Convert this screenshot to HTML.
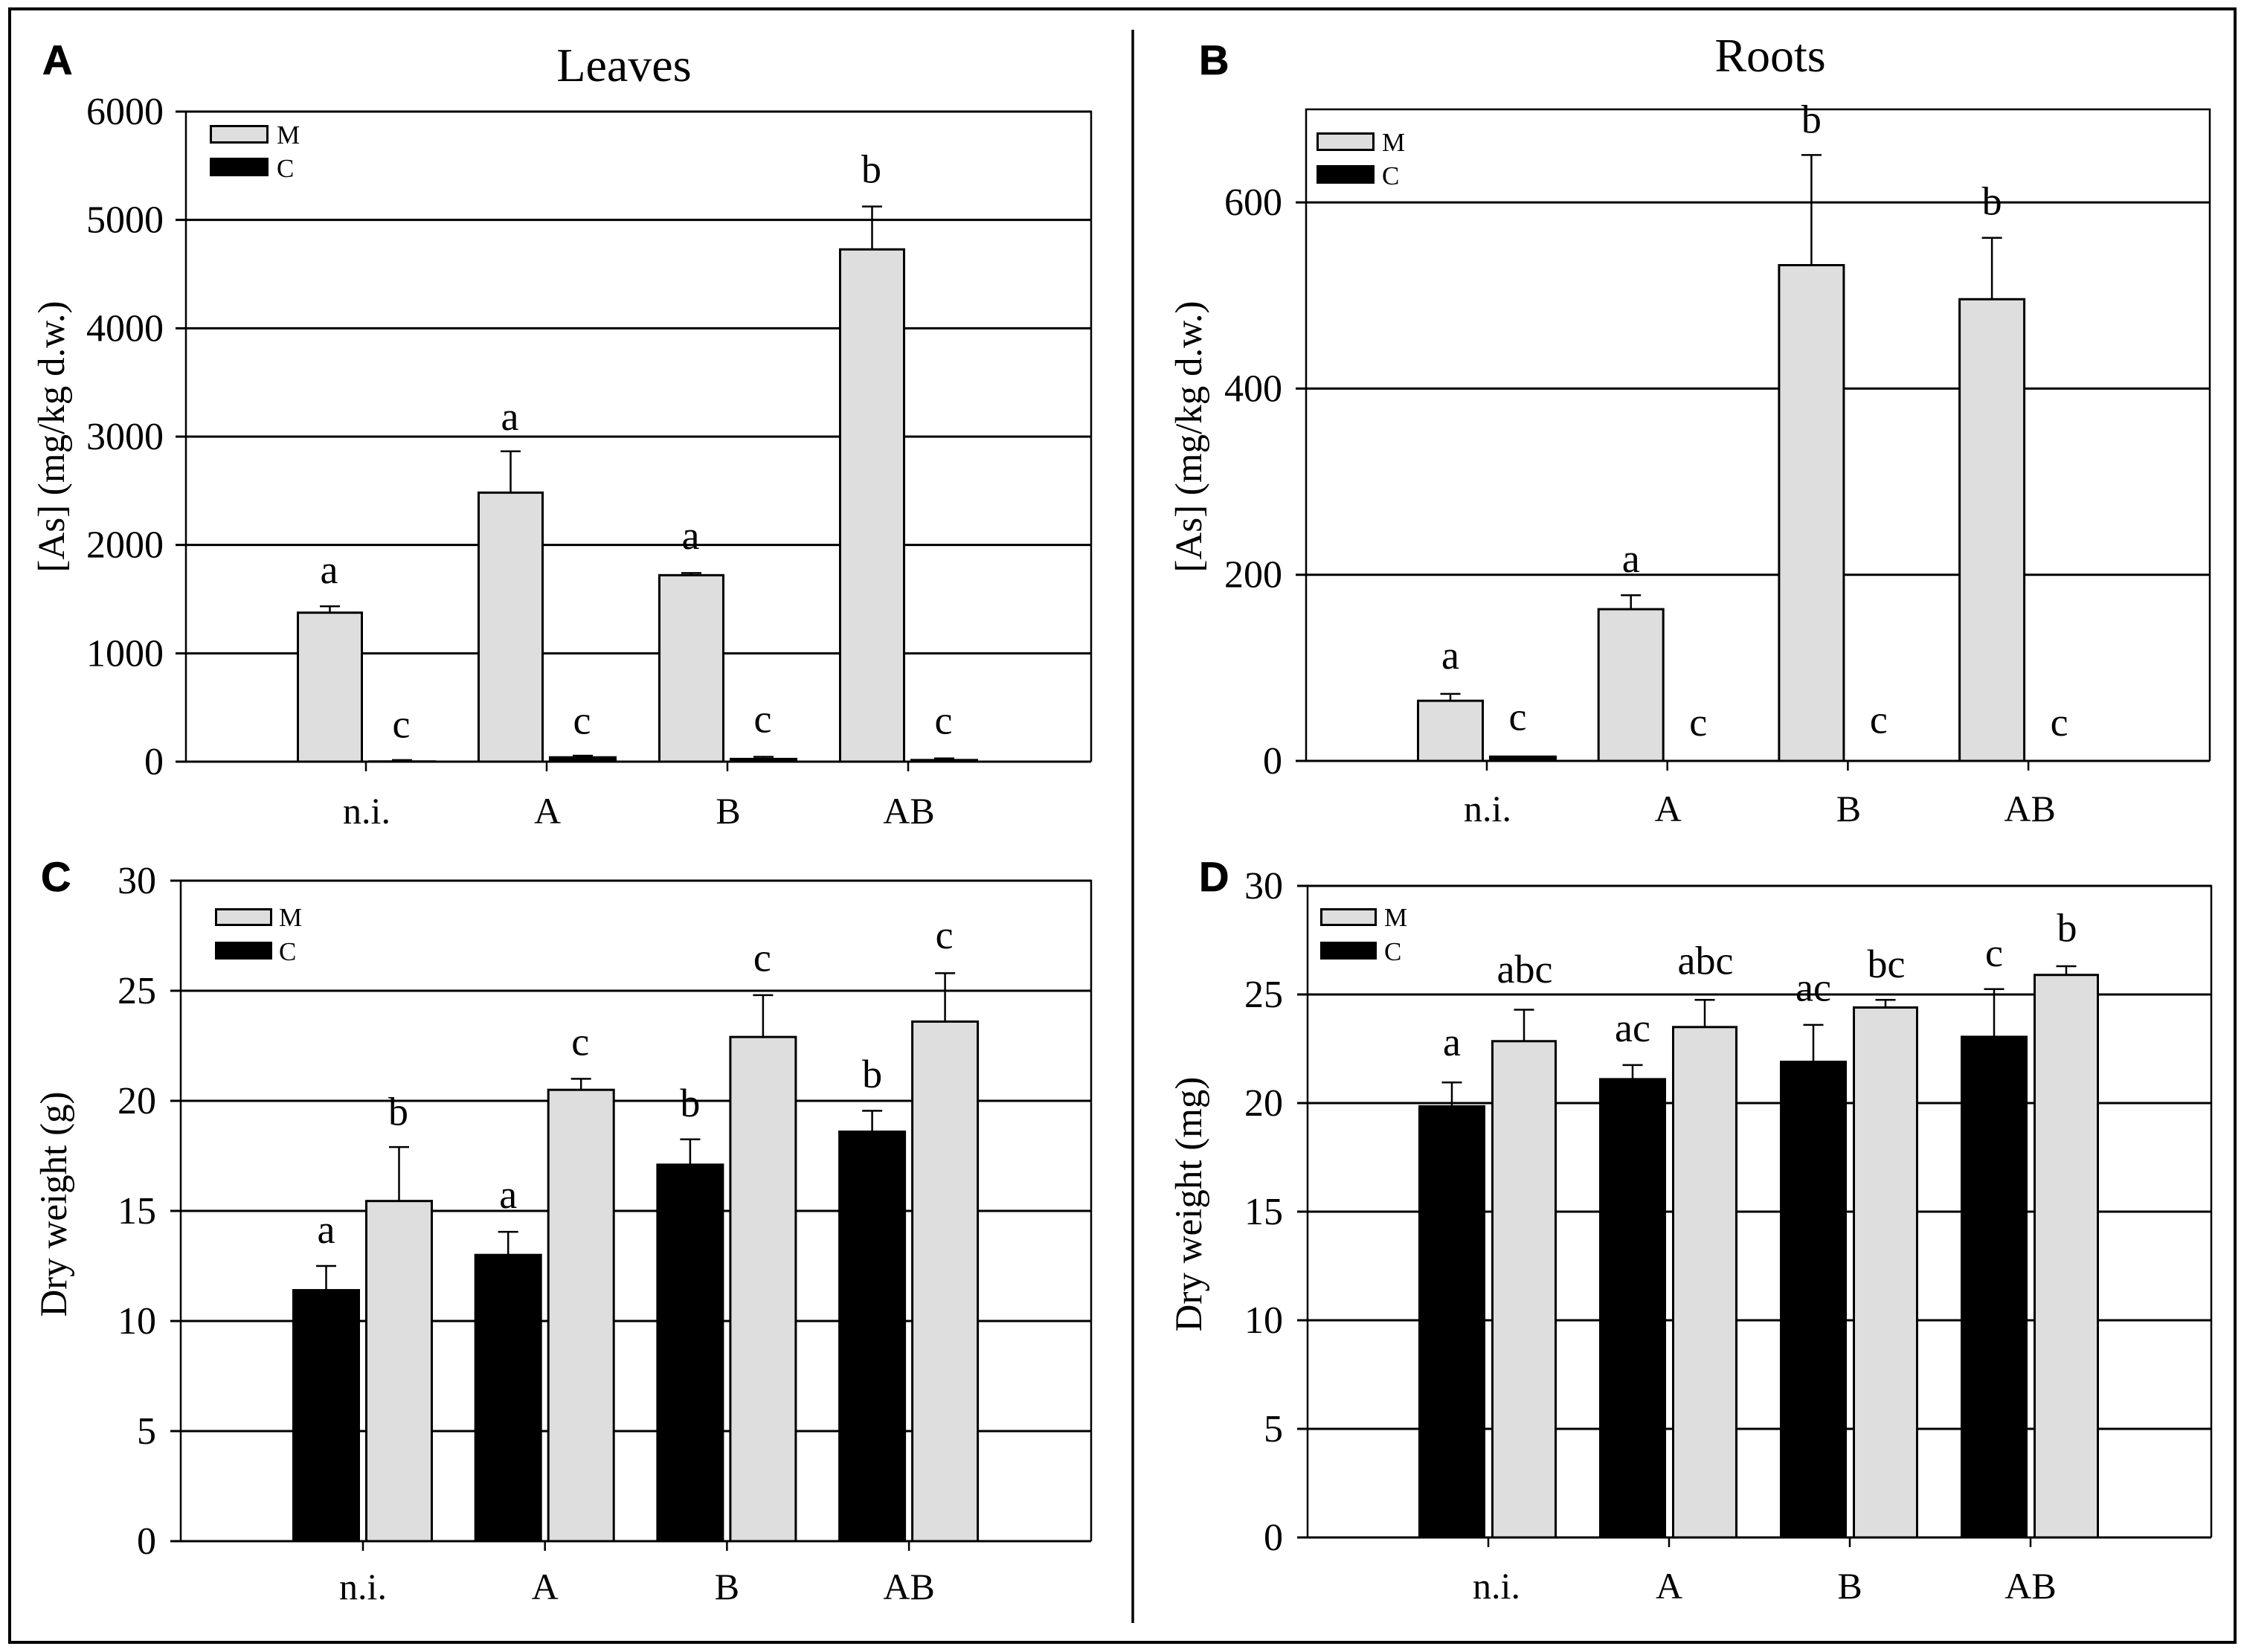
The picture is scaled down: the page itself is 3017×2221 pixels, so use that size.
<!DOCTYPE html>
<html lang="en">
<head>
<meta charset="utf-8">
<title>Arsenic concentration and dry weight in leaves and roots</title>
<style>
html,body{margin:0;padding:0;background:#fff;}
svg{display:block;font-family:"Liberation Serif",serif;}
.panel-letter{font-family:"Liberation Sans",sans-serif;font-weight:bold;font-size:56px;stroke:#000;stroke-width:0.8px;}
</style>
</head>
<body>
<svg id="figure" xmlns="http://www.w3.org/2000/svg" width="3017" height="2221" viewBox="0 0 3017 2221">
  <rect x="0" y="0" width="3017" height="2221" fill="#fff"/>
  <rect x="13" y="12" width="2992" height="2196" fill="none" stroke="#000" stroke-width="4"/>
  <line x1="1523" y1="40" x2="1523" y2="2182" stroke="#000" stroke-width="3.5"/>

  <text class="panel-letter" x="57" y="100">A</text>
  <text class="panel-letter" x="1612" y="100">B</text>
  <text class="panel-letter" x="55" y="1198">C</text>
  <text class="panel-letter" x="1612" y="1198">D</text>

  <text x="839" y="109" font-size="64" text-anchor="middle">Leaves</text>
  <text x="2380" y="96" font-size="64" text-anchor="middle">Roots</text>

  <text transform="translate(86 587) rotate(-90)" font-size="51" text-anchor="middle">[As] (mg/kg d.w.)</text>
  <text transform="translate(1615 587) rotate(-90)" font-size="51" text-anchor="middle">[As] (mg/kg d.w.)</text>
  <text transform="translate(89 1619) rotate(-90)" font-size="51" text-anchor="middle">Dry weight (g)</text>
  <text transform="translate(1615 1619) rotate(-90)" font-size="51" text-anchor="middle">Dry weight (mg)</text>

  <g id="panel-a"></g>
  <g id="panel-b"></g>
  <g id="panel-c"></g>
  <g id="panel-d"></g>
</svg>

<script>
// ---- Data ----
const categories = ['n.i.', 'A', 'B', 'AB'];

const ticksA = [0, 1000, 2000, 3000, 4000, 5000, 6000];
const mValuesA = [1375, 2483, 1721, 4728];
const mErrorTopsA = [1434, 2864, 1741, 5124];
const mLettersA = ['a', 'a', 'a', 'b'];
const mLetterLevelsA = [1647, 3061, 1963, 5346];
const cValuesA = [2, 40, 25, 15];
const cErrorTopsA = [15, 55, 45, 30];
const cLettersA = ['c', 'c', 'c', 'c'];
const cLetterLevelsA = [222, 257, 272, 257];

const ticksB = [0, 200, 400, 600];
const mValuesB = [64.6, 163, 532.6, 496];
const mErrorTopsB = [72, 178, 651, 562];
const mLettersB = ['a', 'a', 'b', 'b'];
const mLetterLevelsB = [99, 203, 675, 587];
const cValuesB = [4.6, 0, 0, 0];
const cErrorTopsB = [4.6, 0, 0, 0];
const cLettersB = ['c', 'c', 'c', 'c'];
const cLetterLevelsB = [33, 27, 30, 27];

const ticksC = [0, 5, 10, 15, 20, 25, 30];
const cValuesC = [11.4, 13.0, 17.1, 18.6];
const cErrorTopsC = [12.5, 14.05, 18.25, 19.55];
const cLettersC = ['a', 'a', 'b', 'b'];
const cLetterLevelsC = [13.55, 15.13, 19.29, 20.6];
const mValuesC = [15.45, 20.5, 22.9, 23.6];
const mErrorTopsC = [17.9, 21, 24.8, 25.8];
const mLettersC = ['b', 'c', 'c', 'c'];
const mLetterLevelsC = [18.9, 22.08, 25.89, 26.92];

const ticksD = [0, 5, 10, 15, 20, 25, 30];
const cValuesD = [19.85, 21.1, 21.9, 23.05];
const cErrorTopsD = [20.95, 21.75, 23.6, 25.25];
const cLettersD = ['a', 'ac', 'ac', 'c'];
const cLetterLevelsD = [22.2, 22.85, 24.71, 26.3];
const mValuesD = [22.85, 23.5, 24.4, 25.9];
const mErrorTopsD = [24.3, 24.75, 24.75, 26.3];
const mLettersD = ['abc', 'abc', 'bc', 'b'];
const mLetterLevelsD = [25.54, 25.95, 25.78, 27.45];

// ---- Rendering ----
const NS = 'http://www.w3.org/2000/svg';
const GRAY = '#dedede';
const BLACK = '#000';

function make(tag, attrs, parent, text) {
  const node = document.createElementNS(NS, tag);
  for (const k in attrs) node.setAttribute(k, attrs[k]);
  if (text !== undefined) node.textContent = text;
  parent.appendChild(node);
  return node;
}

function drawPanel(p) {
  const root = document.getElementById(p.id);
  const yMax = p.ticks[p.ticks.length - 1] > p.axisMax ? p.ticks[p.ticks.length - 1] : p.axisMax;
  const yScale = function (v) { return p.y0 - (v / yMax) * (p.y0 - p.yTop); };
  const xScale = function (i) { return p.tick0 + i * p.tickStep; };

  // gridlines and y ticks
  p.ticks.forEach(function (t) {
    const y = yScale(t);
    const grid = make('line', { x1: p.xLeft - 14, x2: p.xRight, y1: y, y2: y, stroke: '#000', 'stroke-width': 3 }, root);
    
    
    const label = make('text', { x: p.tickLabelX + 3, y: y + 17, 'font-size': 52, 'text-anchor': 'end' }, root, String(t));
    
    
  });

  // plot spines
  const spines = make('path', {
    d: 'M' + p.xLeft + ' ' + p.y0 + 'V' + p.yTop + 'H' + p.xRight + 'V' + p.y0,
    fill: 'none', stroke: '#000', 'stroke-width': 2.5
  }, root);
  
  

  // x ticks and category labels
  categories.forEach(function (cat, i) {
    const x = xScale(i);
    const tick = make('line', { x1: x, x2: x, y1: p.y0, y2: p.y0 + 13, stroke: '#000', 'stroke-width': 2.5 }, root);
    
    
    const label = make('text', { x: x + p.catNudge[i], y: p.catBaseline, 'font-size': 50, 'text-anchor': 'middle' }, root, cat);
    
    
  });

  // bars, error bars, letters
  p.series.forEach(function (s) {
    s.values.forEach(function (v, i) {
      const tx = xScale(i);
      const x1 = tx + s.from;
      const x2 = tx + s.to;
      const cx = (x1 + x2) / 2;
      const top = yScale(v);
      const errTop = yScale(s.errors[i]);

      const whisker = make('line', { x1: cx, x2: cx, y1: top, y2: errTop, stroke: '#000', 'stroke-width': 2.5 }, root);
      
      
      const cap = make('line', { x1: cx - 13.5, x2: cx + 13.5, y1: errTop, y2: errTop, stroke: '#000', 'stroke-width': 2.5 }, root);
      
      

      const bar = make('rect', {
        x: x1 + 1.5, y: top, width: x2 - x1 - 3, height: Math.max(0, p.y0 - top),
        fill: s.fill, stroke: '#000', 'stroke-width': 3
      }, root);
      
      

      const letter = make('text', {
        x: cx + (s.letterDx || 0), y: yScale(s.levels[i]), 'font-size': 54, 'text-anchor': 'middle'
      }, root, s.letters[i]);
      
      
    });
  });

  // x axis on top of the bars
  const axis = make('line', { x1: p.xLeft - 14, x2: p.xRight, y1: p.y0, y2: p.y0, stroke: '#000', 'stroke-width': 3 }, root);
  
  

  // legend
  const L = p.legend;
  const mSwatch = make('rect', { x: L.x + 1.5, y: L.y1 + 1.5, width: L.w - 3, height: L.h - 3, fill: GRAY, stroke: '#000', 'stroke-width': 3 }, root);
  
  
  const mText = make('text', { x: L.textX, y: L.y1 + L.h, 'font-size': 35 }, root, 'M');
  
  
  const cSwatch = make('rect', { x: L.x, y: L.y2, width: L.w, height: L.h, fill: BLACK }, root);
  
  
  const cText = make('text', { x: L.textX, y: L.y2 + L.h + 1, 'font-size': 35 }, root, 'C');
  
  
}

drawPanel({
  id: 'panel-a', ticks: ticksA, axisMax: 6000,
  xLeft: 250, xRight: 1467, yTop: 150, y0: 1024, tickLabelX: 217,
  tick0: 492, tickStep: 243, catBaseline: 1107, catNudge: [1, 1, 1, 1],
  legend: { x: 282, y1: 168, y2: 212, w: 79, h: 25, textX: 372 },
  series: [
    { name: 'm', values: mValuesA, errors: mErrorTopsA, letters: mLettersA, levels: mLetterLevelsA, fill: GRAY, from: -93, to: -4, letterDx: -1 },
    { name: 'c', values: cValuesA, errors: cErrorTopsA, letters: cLettersA, levels: cLetterLevelsA, fill: BLACK, from: 3, to: 94, letterDx: -1 }
  ]
});

drawPanel({
  id: 'panel-b', ticks: ticksB, axisMax: 700,
  xLeft: 1756, xRight: 2971, yTop: 147, y0: 1023, tickLabelX: 1721,
  tick0: 1999, tickStep: 242.7, catBaseline: 1104, catNudge: [1, 1, 1, 2],
  legend: { x: 1770, y1: 178, y2: 222, w: 78, h: 25, textX: 1858 },
  series: [
    { name: 'm', values: mValuesB, errors: mErrorTopsB, letters: mLettersB, levels: mLetterLevelsB, fill: GRAY, from: -94, to: -4 },
    { name: 'c', values: cValuesB, errors: cErrorTopsB, letters: cLettersB, levels: cLetterLevelsB, fill: BLACK, from: 3, to: 94, letterDx: -7 }
  ]
});

drawPanel({
  id: 'panel-c', ticks: ticksC, axisMax: 30,
  xLeft: 243, xRight: 1467, yTop: 1184, y0: 2072, tickLabelX: 207,
  tick0: 488, tickStep: 244.7, catBaseline: 2150, catNudge: [0, 0, 0, 0],
  legend: { x: 289, y1: 1221, y2: 1266, w: 77, h: 24, textX: 375 },
  series: [
    { name: 'c', values: cValuesC, errors: cErrorTopsC, letters: cLettersC, levels: cLetterLevelsC, fill: BLACK, from: -95, to: -4 },
    { name: 'm', values: mValuesC, errors: mErrorTopsC, letters: mLettersC, levels: mLetterLevelsC, fill: GRAY, from: 3, to: 94, letterDx: -1 }
  ]
});

drawPanel({
  id: 'panel-d', ticks: ticksD, axisMax: 30,
  xLeft: 1758, xRight: 2973, yTop: 1191, y0: 2067, tickLabelX: 1722,
  tick0: 2001, tickStep: 243, catBaseline: 2149, catNudge: [11, 0, 0, 0],
  legend: { x: 1775, y1: 1221, y2: 1266, w: 76, h: 24, textX: 1861 },
  series: [
    { name: 'c', values: cValuesD, errors: cErrorTopsD, letters: cLettersD, levels: cLetterLevelsD, fill: BLACK, from: -94, to: -4 },
    { name: 'm', values: mValuesD, errors: mErrorTopsD, letters: mLettersD, levels: mLetterLevelsD, fill: GRAY, from: 4, to: 92, letterDx: 1 }
  ]
});
</script>
</body>
</html>
